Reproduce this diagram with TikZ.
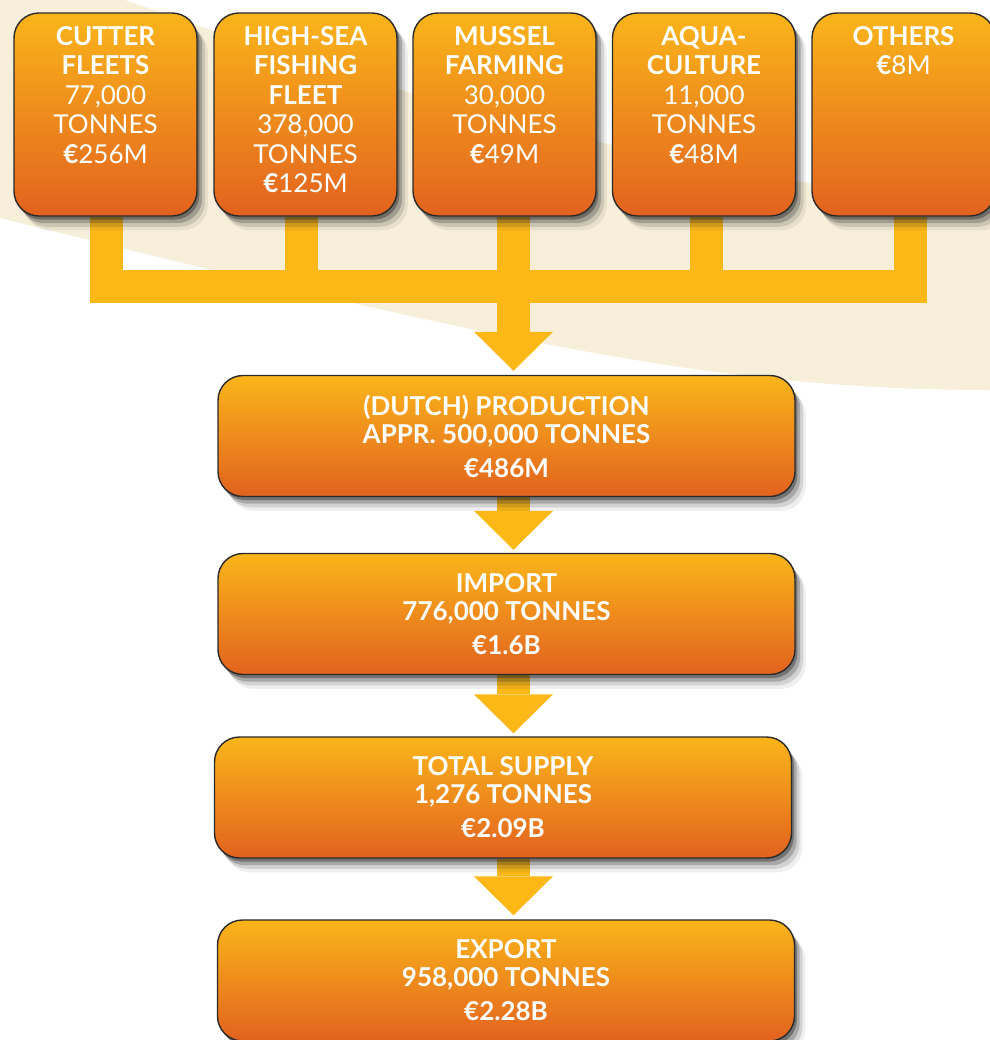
\documentclass[tikz,border=0pt]{standalone}
\usepackage{fontspec}
\setmainfont{Lato}
\usetikzlibrary{shadows,arrows.meta}
\definecolor{cream}{HTML}{F7EFD9}
\definecolor{barcol}{HTML}{FBB817}
\definecolor{boxtop}{HTML}{FAB51A}
\definecolor{boxbot}{HTML}{E2621F}
\definecolor{boxline}{HTML}{2A2A2A}
\pgfdeclarelayer{back}
\pgfdeclarelayer{bg}
\pgfsetlayers{back,bg,main}
\newcommand\topboxtext[1]{\parbox[c][101.5pt][t]{91.5pt}{\centering\fontsize{13}{14.75}\selectfont\vspace*{6.6pt}#1}}
\begin{document}
\begin{tikzpicture}[x=0.5pt,y=-0.5pt,
  softshadow/.style={
    drop shadow={shadow xshift=1.2pt,shadow yshift=-1.8pt,opacity=.4,fill=black!85},
    drop shadow={shadow xshift=2.6pt,shadow yshift=-3.6pt,opacity=.25,fill=black!85},
    drop shadow={shadow xshift=4pt,shadow yshift=-5.4pt,opacity=.14,fill=black!85},
    drop shadow={shadow xshift=5.4pt,shadow yshift=-7.2pt,opacity=.07,fill=black!85}},
  box/.style={rectangle, rounded corners=12.5pt, draw=boxline, line width=0.7pt,
    top color=boxtop, bottom color=boxbot, text=white, inner sep=0pt, softshadow},
  topbox/.style={box, minimum width=91.5pt, minimum height=101.5pt},
  flowbox/.style={box, minimum width=288.5pt, minimum height=60.5pt, align=center,
    font=\bfseries\fontsize{13}{14}\selectfont},
  bar/.style={draw=barcol, line width=16.5pt, line join=miter},
  flowtip/.style={-{Triangle[length=19.5pt,width=39.5pt,line width=0pt]}}
]
\useasboundingbox (0,0) rectangle (990,1040);
\begin{pgfonlayer}{back}
  \fill[white] (0,0) rectangle (990,1040);
  \fill[cream] (0,0) -- (125,0) .. controls (350,80) and (650,175) .. (990,205)
    -- (990,390) .. controls (800,390) and (650,365) .. (500,335)
    .. controls (330,300) and (150,255) .. (0,218) -- cycle;
\end{pgfonlayer}

% top row
\node[topbox] (c1) at (105.5,114.5) {\topboxtext{{\bfseries CUTTER\\FLEETS}\\77,000\\TONNES\\{\bfseries €}256M}};
\node[topbox] (c2) at (305.5,114.5) {\topboxtext{{\bfseries HIGH-SEA\\FISHING\\FLEET}\\378,000\\TONNES\\{\bfseries €}125M}};
\node[topbox] (c3) at (504.5,114.5) {\topboxtext{{\bfseries MUSSEL\\FARMING}\\30,000\\TONNES\\{\bfseries €}49M}};
\node[topbox] (c4) at (704,114.5) {\topboxtext{{\bfseries AQUA-\\CULTURE}\\11,000\\TONNES\\{\bfseries €}48M}};
\node[topbox] (c5) at (903.5,114.5) {\topboxtext{{\bfseries OTHERS}\\{\bfseries €}8M}};

% flow boxes
\node[flowbox] (prod) at (506.5,436) {(DUTCH) PRODUCTION\\APPR. 500,000 TONNES\\[3pt]€486M};
\node[flowbox] (imp) at (506.5,614) {IMPORT\\776,000 TONNES\\[3pt]€1.6B};
\node[flowbox] (tot) at (503,797.5) {TOTAL SUPPLY\\1,276 TONNES\\[3pt]€2.09B};
\node[flowbox] (exp) at (506,980.5) {EXPORT\\958,000 TONNES\\[3pt]€2.28B};

% junctions
\coordinate (j1) at (106.5,286.5);
\coordinate (j2) at (301.5,286.5);
\coordinate (j3) at (513.5,286.5);
\coordinate (j4) at (706.5,286.5);
\coordinate (j5) at (910.5,286.5);

\begin{pgfonlayer}{bg}
  \draw[bar] (c1.south -| j1) |- (j5) -- (c5.south -| j5);
  \draw[bar] (c2.south -| j2) -- (j2);
  \draw[bar] (c4.south -| j4) -- (j4);
  \draw[bar, flowtip, shorten >=2pt] (c3.south -| j3) -- (prod.north -| j3);
  \draw[bar, flowtip, shorten >=1.5pt] (prod.south -| j3) -- (imp.north -| j3);
  \draw[bar, flowtip, shorten >=1.5pt] (imp.south -| j3) -- (tot.north -| j3);
  \draw[bar, flowtip, shorten >=2pt] (tot.south -| j3) -- (exp.north -| j3);
\end{pgfonlayer}
\end{tikzpicture}
\end{document}
